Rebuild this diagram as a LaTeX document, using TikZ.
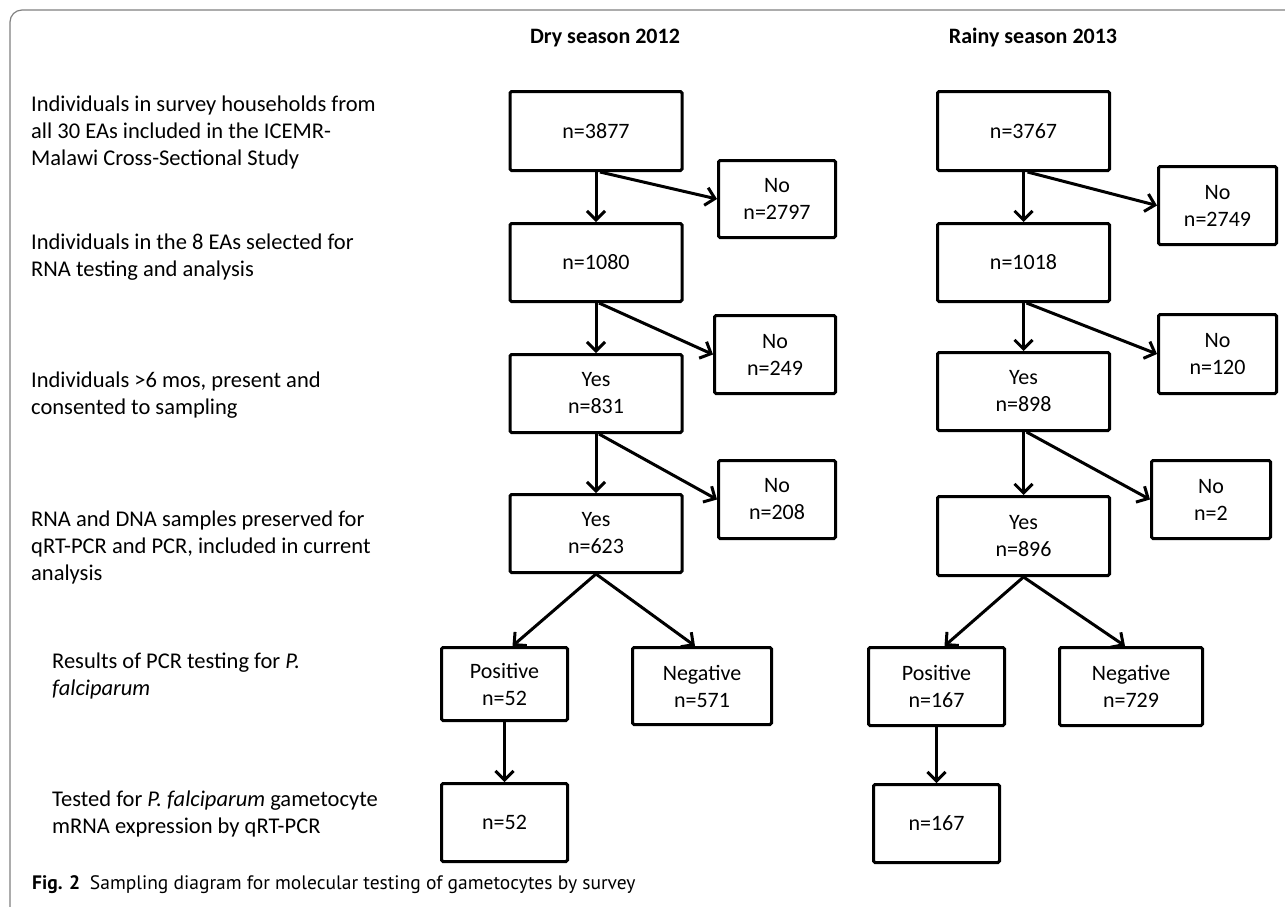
\documentclass[tikz,border=0pt]{standalone}
\usepackage{fontspec}
\setmainfont{Carlito}
\newfontfamily\capfont{PT Sans}
\usetikzlibrary{arrows.meta,calc}
\begin{document}
\begin{tikzpicture}[x=1pt,y=-1pt,
  box/.style={draw, line width=3pt, rounded corners=1.5pt, align=center, inner sep=0pt,
    font=\fontsize{22}{27}\selectfont},
  conn/.style={line width=3pt, -{Straight Barb[length=9pt,width=18pt]}},
  lbl/.style={anchor=north west, inner sep=0pt, align=left, font=\fontsize{22.5}{27}\selectfont},
  hdr/.style={anchor=base, inner sep=0pt, font=\fontsize{22}{27}\selectfont\bfseries},
  frame/.style={draw=black!50, line width=1.2pt, rounded corners=12pt}]
\useasboundingbox (0,0) rectangle (1285,906);
\draw[frame] (1300,10) -- (10,10) -- (10,930);

% headers
\node[hdr] (h1) at (605,43) {Dry season 2012};
\node[hdr] (h2) at (1033,43) {Rainy season 2013};

% left labels
\node[lbl] (l1) at (31,92) {\strut Individuals in survey households from\\all 30 EAs included in the ICEMR-\\Malawi Cross-Sectional Study};
\node[lbl] (l2) at (31,230) {\strut Individuals in the 8 EAs selected for\\RNA testing and analysis};
\node[lbl] (l3) at (31,368) {\strut Individuals >6 mos, present and\\consented to sampling};
\node[lbl] (l4) at (31,507) {\strut RNA and DNA samples preserved for\\qRT-PCR and PCR, included in current\\analysis};
\node[lbl] (l5) at (52,649) {\strut Results of PCR testing for \textit{P.}\\\textit{falciparum}};
\node[lbl] (l6) at (52,787) {\strut Tested for \textit{P. falciparum} gametocyte\\mRNA expression by qRT-PCR};

% dry season
\node[box, minimum width=172, minimum height=79] (A1) at (596,131) {n=3877};
\node[box, minimum width=172, minimum height=78] (A2) at (596,262.5) {n=1080};
\node[box, minimum width=172, minimum height=78] (A3) at (596,393.5) {Yes\\n=831};
\node[box, minimum width=172, minimum height=78] (A4) at (596,533.5) {Yes\\n=623};
\node[box, minimum width=117, minimum height=77] (N1) at (777,199) {No\\n=2797};
\node[box, minimum width=121, minimum height=78] (N2) at (775,354.5) {No\\n=249};
\node[box, minimum width=117, minimum height=78] (N3) at (777,499.5) {No\\n=208};
\node[box, minimum width=126, minimum height=73] (P1) at (504.5,684) {Positive\\n=52};
\node[box, minimum width=139, minimum height=77] (G1) at (702,686) {Negative\\n=571};
\node[box, minimum width=126, minimum height=78] (F1) at (504.5,822.5) {n=52};

% rainy season
\node[box, minimum width=172, minimum height=79] (B1) at (1023.5,131) {n=3767};
\node[box, minimum width=172, minimum height=78] (B2) at (1023.5,262.5) {n=1018};
\node[box, minimum width=172, minimum height=78] (B3) at (1023.5,391.5) {Yes\\n=898};
\node[box, minimum width=172, minimum height=79] (B4) at (1023.5,536) {Yes\\n=896};
\node[box, minimum width=118, minimum height=78] (M1) at (1217.5,205.5) {No\\n=2749};
\node[box, minimum width=118, minimum height=79] (M2) at (1217.5,354) {No\\n=120};
\node[box, minimum width=119, minimum height=78] (M3) at (1211,499.5) {No\\n=2};
\node[box, minimum width=136, minimum height=78] (P2) at (936.5,686.5) {Positive\\n=167};
\node[box, minimum width=143, minimum height=78] (G2) at (1131,686.5) {Negative\\n=729};
\node[box, minimum width=126, minimum height=78] (F2) at (936.5,823.5) {n=167};

% connectors dry
\draw[conn] (A1) -- (A2);
\draw[conn] ($(A1.south)+(4,0)$) -- (N1.west);
\draw[conn] (A2) -- (A3);
\draw[conn] ($(A2.south)+(3,0)$) -- (N2.west);
\draw[conn] (A3) -- (A4);
\draw[conn] ($(A3.south)+(3,0)$) -- (N3.west);
\draw[conn] (A4.south) -- ($(P1.north)+(8,0)$);
\draw[conn] (A4.south) -- ($(G1.north)+(-7,0)$);
\draw[conn] (P1) -- (F1);

% connectors rainy
\draw[conn] (B1) -- (B2);
\draw[conn] ($(B1.south)+(4,0)$) -- (M1.west);
\draw[conn] (B2) -- (B3);
\draw[conn] ($(B2.south)+(3,0)$) -- (M2.west);
\draw[conn] (B3) -- (B4);
\draw[conn] ($(B3.south)+(3,0)$) -- (M3.west);
\draw[conn] (B4.south) -- ($(P2.north)+(8,0)$);
\draw[conn] (B4.south) -- ($(G2.north)+(-6,0)$);
\draw[conn] (P2) -- (F2);

% caption
\node[anchor=base west, inner sep=0pt, font=\capfont\fontsize{19.5}{23}\selectfont] (cap) at (32,889)
  {\textbf{Fig. 2}\enspace Sampling diagram for molecular testing of gametocytes by survey};
\end{tikzpicture}
\end{document}
